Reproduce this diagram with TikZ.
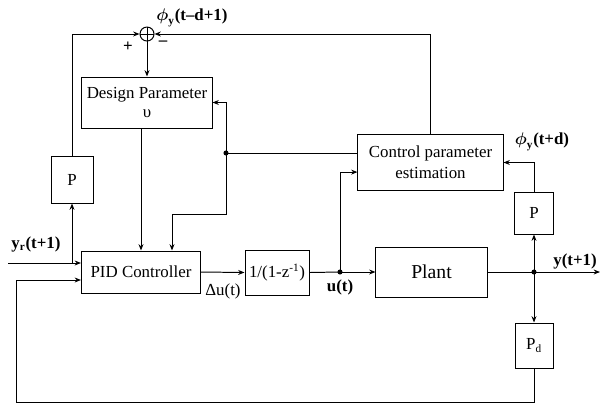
\documentclass[tikz,border=0pt]{standalone}
\usepackage{amsmath}
\usepackage{fontspec}
\setmainfont{Liberation Serif}
\usetikzlibrary{arrows.meta}

\begin{document}
\begin{tikzpicture}[x=0.025cm, y=-0.025cm, line width=0.7pt,
  every node/.style={font=\fontsize{12}{13}\selectfont},
  block/.style={draw, inner sep=2pt, align=center},
  sig/.style={-{Stealth[length=4.5pt,width=3.5pt]}},
  lbl/.style={font=\fontsize{12}{13}\selectfont\bfseries, inner sep=1pt}]
  \useasboundingbox (0,0) rectangle (604,404);
	\node[block, minimum width=3.25cm, minimum height=1.275cm] (design) at (147,102.5) {Design Parameter\\[1pt]υ};
	\node[block, minimum width=3.625cm, minimum height=1.4cm] (ctrl) at (430.5,162.5) {Control parameter\\[2pt]estimation};
	\node[block, minimum width=2.975cm, minimum height=1.05cm] (pid) at (141,272) {PID Controller};
	\node[block, minimum width=1.6cm, minimum height=1.125cm] (integ) at (277,272.5) {1/(1-z\textsuperscript{-1})};
	\node[block, minimum width=2.775cm, minimum height=1.25cm, font=\fontsize{14}{15}\selectfont] (plant) at (431.5,272) {Plant};
	\node[block, minimum width=1.05cm, minimum height=1.175cm] (pl) at (72,179.5) {P};
	\node[block, minimum width=0.975cm, minimum height=1.05cm] (pr) at (534,213) {P};
	\node[block, minimum width=0.95cm, minimum height=1.125cm] (pd) at (534,345.5) {P\textsubscript{d}};
	\node[draw, circle, minimum size=0.35cm, inner sep=0pt] (sum) at (147,34) {};
	\draw (sum.north) -- (sum.south) (sum.west) -- (sum.east);
	\coordinate (yin) at (8,263);
	\coordinate (jl) at (72,263);
	\coordinate (jd) at (226,153);
	\coordinate (jb) at (172,214);
	\coordinate (ju) at (340,272);
	\coordinate (jy) at (534,272);
	\coordinate (yout) at (600,272);
	\coordinate (fb) at (16,402);
	\draw[sig] (yin) -- (yin -| pid.west);
	\draw[sig] (jl) -- (pl.south);
	\draw[sig] (pl.north) |- (sum.west);
	\draw[sig] (ctrl.north) |- (sum.east);
	\draw[sig] (sum.south) -- (design.north);
	\draw[sig] (design.south -| pid.north) -- (pid.north);
	\draw[sig] (jd) |- (design.east);
	\draw (jd) -- (jd -| ctrl.west);
	\draw[sig] (jd) |- (jb) -- (jb |- pid.north);
	\draw[sig] (pid.east) -- (integ.west);
	\draw (integ.east) -- (ju);
	\draw[sig] (ju) -- (plant.west);
	\draw[sig] (ju) |- ([yshift=-0.24cm]ctrl.west);
	\draw (plant.east) -- (jy);
	\draw[sig] (jy) -- (yout);
	\draw[sig] (jy) -- (pr.south);
	\draw[sig] (jy) -- (pd.north);
	\draw[sig] (pr.north) |- (ctrl.east);
	\draw[sig] (pd.south) |- (fb) |- ([yshift=-0.2cm]pid.west);
	\fill (jd) circle (1.8pt) (ju) circle (1.8pt) (jy) circle (1.8pt);
	\node[lbl] (lphi) at (192,18) {$\boldsymbol{\phi}_{\mathbf{y}}$(t--d+1)};
	\node[lbl] (lplus) at (128,47) {+};
	\node[lbl] (lminus) at (163,43) {--};
	\node[lbl] (lphid) at (542,142) {$\boldsymbol{\phi}_{\mathbf{y}}$(t+d)};
	\node[lbl] (lyr) at (36,244) {y\textsubscript{r}(t+1)};
	\node[lbl, font=\fontsize{12}{13}\selectfont] (ldu) at (223,291) {Δu(t)};
	\node[lbl] (lu) at (340,287) {u(t)};
	\node[lbl] (ly) at (575,261) {y(t+1)};
\end{tikzpicture}
\end{document}
